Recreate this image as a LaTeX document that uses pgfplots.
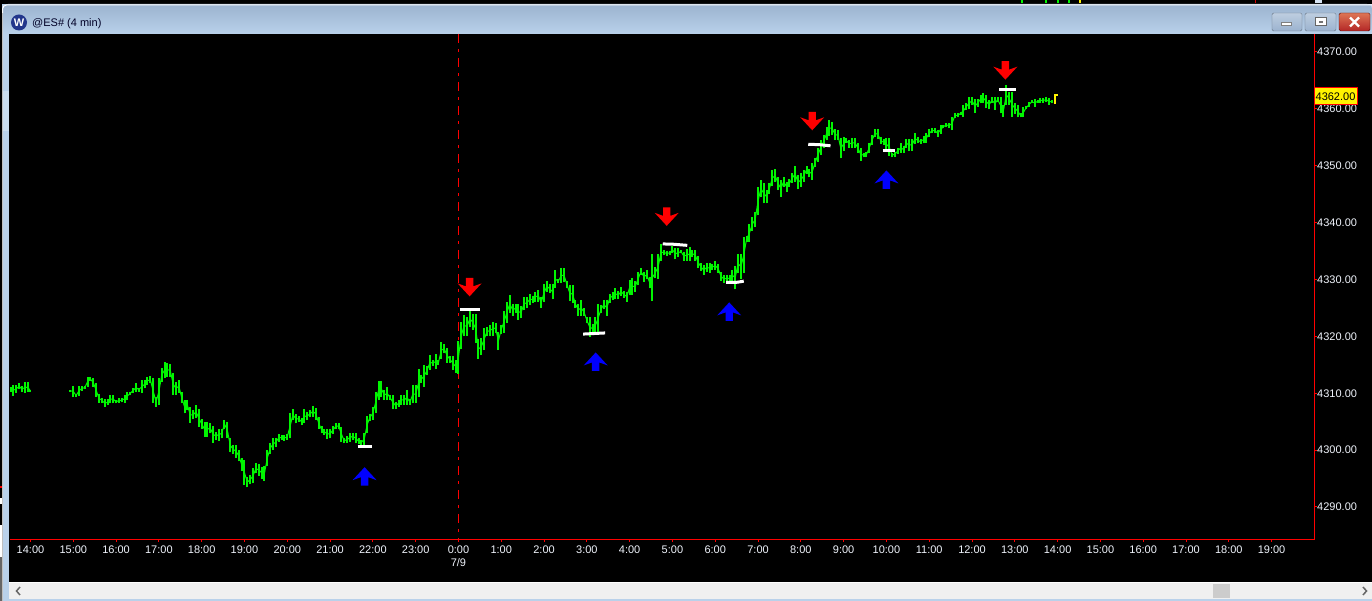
\documentclass[border=0pt]{standalone}
\usepackage{fontspec}
\setmainfont{Liberation Sans}
\usepackage{pgfplots}
\usepackage{pgfplotstable}
\pgfplotsset{compat=1.18}

\definecolor{bargreen}{RGB}{0,245,0}
\definecolor{frameblue}{RGB}{185,209,234}
\definecolor{titletop}{RGB}{155,179,207}
\definecolor{labelwhite}{RGB}{240,244,252}
\definecolor{logoblue}{RGB}{35,55,140}

% arrows drawn as plot marks, 1 unit = 1pt = 1 pixel
\pgfdeclareplotmark{uparrow}{%
  \pgfpathmoveto{\pgfqpoint{0pt}{9.5pt}}
  \pgfpathlineto{\pgfqpoint{12pt}{-3.5pt}}
  \pgfpathlineto{\pgfqpoint{3.7pt}{-0.5pt}}
  \pgfpathlineto{\pgfqpoint{3.7pt}{-9pt}}
  \pgfpathlineto{\pgfqpoint{-3.7pt}{-9pt}}
  \pgfpathlineto{\pgfqpoint{-3.7pt}{-0.5pt}}
  \pgfpathlineto{\pgfqpoint{-12pt}{-3.5pt}}
  \pgfpathclose
  \pgfusepathqfill}
\pgfdeclareplotmark{downarrow}{%
  \pgfpathmoveto{\pgfqpoint{0pt}{-9.5pt}}
  \pgfpathlineto{\pgfqpoint{12pt}{3.5pt}}
  \pgfpathlineto{\pgfqpoint{3.7pt}{0.5pt}}
  \pgfpathlineto{\pgfqpoint{3.7pt}{9pt}}
  \pgfpathlineto{\pgfqpoint{-3.7pt}{9pt}}
  \pgfpathlineto{\pgfqpoint{-3.7pt}{0.5pt}}
  \pgfpathlineto{\pgfqpoint{-12pt}{3.5pt}}
  \pgfpathclose
  \pgfusepathqfill}

% 4 minute bars, i = bars after 14:00
\pgfplotstableread{
i lo hi
-7 4310.30 4311.15
-6 4309.60 4311.45
-5 4310.10 4311.45
-4 4310.70 4311.75
-3 4310.25 4311.25
-2 4310.10 4311.90
-1 4310.25 4311.90
0 4310.25 4310.60
7 nan nan
14 4310.25 4310.60
15 4309.40 4311.25
16 4309.40 4309.80
17 4309.60 4311.25
18 4310.45 4311.25
19 4310.70 4311.25
20 4311.15 4312.80
21 4312.20 4312.80
22 4311.15 4312.60
23 4309.40 4311.75
24 4308.35 4309.80
25 4308.35 4309.20
26 4307.60 4308.90
27 4307.90 4308.90
28 4308.20 4309.70
29 4308.20 4309.70
30 4308.20 4308.80
31 4308.35 4309.10
32 4308.40 4309.10
33 4308.35 4309.70
34 4308.80 4310.25
35 4309.70 4310.25
36 4310.00 4311.00
37 4310.25 4311.75
38 4310.25 4311.00
39 4310.00 4312.30
40 4310.85 4312.30
41 4311.45 4312.90
42 4311.75 4313.00
43 4308.20 4312.60
44 4307.60 4309.40
45 4307.90 4312.60
46 4312.00 4314.40
47 4312.60 4315.55
48 4312.90 4315.40
49 4312.90 4315.10
50 4309.70 4313.50
51 4309.70 4312.00
52 4310.10 4312.40
53 4308.20 4310.25
54 4306.45 4308.80
55 4307.00 4308.80
56 4304.80 4307.60
57 4305.40 4307.00
58 4305.60 4307.90
59 4304.10 4307.20
60 4303.80 4305.40
61 4302.35 4305.00
62 4302.35 4305.00
63 4302.95 4304.80
64 4301.30 4304.20
65 4301.80 4303.25
66 4301.65 4303.80
67 4302.05 4303.80
68 4303.80 4305.30
69 4302.05 4305.00
70 4299.70 4302.05
71 4299.40 4300.90
72 4298.70 4300.90
73 4298.00 4300.00
74 4296.40 4298.55
75 4293.85 4298.25
76 4293.45 4295.30
77 4294.00 4295.60
78 4294.15 4296.80
79 4295.90 4297.65
80 4295.45 4297.55
81 4295.00 4297.10
82 4294.60 4297.20
83 4297.20 4300.00
84 4299.40 4301.20
85 4300.10 4302.05
86 4300.60 4302.20
87 4301.50 4302.80
88 4301.80 4302.65
89 4301.65 4302.65
90 4301.80 4302.80
91 4302.05 4306.45
92 4305.30 4307.15
93 4304.70 4306.35
94 4305.00 4306.00
95 4304.40 4305.60
96 4304.70 4307.15
97 4305.30 4306.75
98 4305.75 4307.00
99 4305.90 4307.75
100 4305.30 4307.45
101 4303.80 4305.75
102 4302.95 4304.25
103 4302.65 4303.80
104 4301.90 4303.80
105 4302.05 4303.65
106 4302.80 4304.25
107 4303.65 4304.70
108 4303.65 4304.80
109 4301.50 4304.10
110 4301.20 4302.05
111 4301.30 4302.45
112 4301.50 4302.95
113 4301.80 4303.05
114 4301.20 4302.95
115 4301.05 4302.05
116 4300.90 4301.80
117 4300.90 4303.05
118 4302.95 4306.00
119 4305.20 4306.35
120 4305.30 4307.65
121 4306.60 4310.30
122 4308.80 4312.20
123 4309.30 4312.20
124 4308.80 4310.55
125 4308.80 4311.15
126 4308.80 4309.70
127 4307.15 4309.70
128 4307.15 4308.50
129 4307.65 4308.80
130 4307.95 4309.70
131 4307.95 4309.70
132 4307.95 4310.55
133 4307.95 4308.90
134 4308.25 4311.45
135 4308.25 4311.45
136 4309.30 4314.20
137 4311.75 4313.20
138 4311.15 4315.00
139 4313.20 4314.80
140 4314.10 4316.70
141 4314.80 4315.85
142 4314.20 4316.90
143 4315.00 4315.85
144 4316.10 4319.05
145 4317.00 4318.65
146 4315.40 4317.90
147 4315.40 4316.55
148 4314.10 4316.55
149 4313.60 4315.85
150 4313.40 4319.25
151 4317.70 4322.60
152 4320.05 4323.75
153 4320.05 4323.45
154 4321.70 4324.50
155 4321.10 4323.90
156 4318.90 4323.90
157 4316.10 4319.45
158 4316.70 4319.65
159 4317.60 4321.40
160 4320.05 4321.60
161 4320.05 4322.00
162 4320.05 4322.60
163 4320.65 4322.30
164 4317.60 4320.80
165 4320.50 4322.00
166 4320.65 4324.50
167 4322.40 4326.10
168 4324.15 4327.25
169 4323.60 4325.70
170 4324.15 4325.70
171 4322.90 4325.70
172 4323.15 4325.35
173 4324.65 4326.85
174 4324.95 4326.85
175 4325.50 4327.45
176 4325.90 4327.10
177 4326.10 4327.85
178 4326.10 4328.15
179 4324.95 4327.00
180 4326.10 4329.20
181 4327.85 4329.75
182 4327.55 4329.20
183 4326.50 4329.20
184 4328.45 4331.65
185 4329.40 4330.00
186 4329.40 4331.95
187 4329.60 4331.95
188 4328.45 4329.80
189 4326.30 4329.00
190 4325.80 4329.00
191 4324.95 4326.40
192 4323.60 4325.70
193 4323.60 4326.40
194 4323.60 4324.95
195 4322.30 4323.35
196 4319.95 4323.35
197 4320.50 4322.20
198 4320.50 4323.35
199 4320.80 4325.70
200 4324.15 4325.50
201 4324.75 4326.40
202 4323.60 4326.40
203 4325.90 4327.45
204 4326.40 4327.85
205 4326.50 4328.45
206 4326.50 4328.05
207 4327.10 4328.60
208 4326.70 4328.05
209 4326.10 4327.85
210 4327.30 4329.90
211 4327.30 4330.20
212 4327.85 4329.80
213 4329.00 4331.35
214 4330.80 4331.95
215 4329.60 4331.35
216 4330.00 4331.65
217 4328.45 4330.50
218 4326.20 4334.50
219 4330.20 4332.15
220 4330.00 4334.50
221 4333.30 4336.25
222 4334.30 4335.20
223 4334.10 4335.05
224 4334.30 4335.05
225 4334.60 4335.90
226 4333.55 4335.50
227 4333.90 4335.50
228 4334.60 4335.20
229 4333.30 4334.90
230 4333.30 4335.30
231 4333.30 4335.65
232 4333.90 4335.20
233 4333.30 4335.20
234 4331.95 4334.10
235 4331.55 4332.85
236 4330.80 4332.55
237 4331.35 4332.85
238 4331.20 4332.85
239 4331.65 4332.70
240 4331.65 4333.20
241 4331.20 4332.70
242 4329.80 4331.35
243 4329.40 4330.80
244 4329.60 4330.80
245 4329.60 4330.80
246 4329.80 4331.65
247 4328.25 4332.35
248 4331.10 4334.50
249 4330.00 4334.50
250 4331.10 4337.50
251 4336.65 4337.65
252 4336.65 4339.75
253 4338.60 4340.90
254 4339.15 4341.90
255 4341.35 4346.20
256 4344.45 4347.50
257 4343.40 4346.90
258 4343.40 4345.70
259 4345.00 4347.00
260 4346.40 4349.25
261 4347.20 4349.35
262 4345.70 4348.10
263 4344.55 4347.50
264 4346.30 4348.10
265 4345.45 4347.20
266 4346.20 4347.60
267 4347.00 4348.65
268 4347.20 4349.95
269 4345.85 4348.35
270 4346.30 4348.65
271 4347.20 4349.25
272 4348.55 4349.95
273 4347.95 4349.35
274 4347.50 4350.40
275 4349.80 4351.30
276 4350.70 4353.05
277 4351.90 4354.50
278 4353.05 4355.40
279 4354.50 4356.75
280 4355.25 4358.00
281 4355.40 4357.75
282 4354.50 4356.40
283 4354.50 4356.25
284 4351.30 4354.80
285 4352.65 4355.00
286 4353.95 4354.80
287 4353.20 4354.50
288 4353.20 4354.80
289 4353.20 4354.80
290 4352.30 4353.95
291 4350.90 4353.05
292 4351.45 4352.30
293 4351.45 4352.45
294 4352.30 4354.05
295 4353.65 4355.40
296 4355.00 4356.40
297 4354.65 4356.40
298 4353.80 4355.00
299 4353.65 4354.65
300 4352.75 4354.80
301 4351.70 4354.80
302 4351.45 4352.30
303 4351.60 4352.45
304 4352.05 4353.20
305 4352.30 4353.95
306 4352.30 4353.45
307 4353.20 4354.65
308 4352.65 4354.65
309 4352.65 4354.65
310 4353.80 4355.70
311 4353.95 4355.00
312 4353.80 4354.65
313 4353.95 4355.25
314 4354.05 4355.70
315 4355.00 4356.40
316 4355.70 4356.60
317 4355.80 4356.60
318 4355.10 4356.25
319 4355.60 4357.15
320 4356.60 4357.15
321 4356.75 4357.55
322 4356.60 4357.55
323 4356.25 4358.60
324 4358.35 4359.30
325 4358.50 4359.20
326 4358.90 4359.50
327 4358.60 4360.70
328 4359.80 4360.95
329 4359.90 4362.15
330 4360.70 4362.15
331 4359.30 4361.65
332 4360.40 4361.65
333 4360.95 4362.45
334 4361.10 4362.70
335 4360.10 4362.45
336 4359.90 4361.55
337 4360.95 4362.15
338 4359.80 4362.00
339 4361.25 4362.00
340 4359.20 4362.00
341 4358.60 4360.70
342 4360.70 4364.20
343 4360.70 4363.00
344 4358.60 4363.00
345 4359.10 4361.10
346 4358.50 4360.70
347 4358.50 4359.20
348 4358.50 4360.25
349 4359.90 4360.50
350 4360.25 4361.25
351 4360.95 4361.55
352 4360.40 4361.65
353 4361.10 4361.55
354 4361.10 4361.85
355 4361.10 4361.85
356 4361.25 4362.00
357 4360.70 4361.85
358 4360.95 4361.55
}\bars

\begin{document}
\begin{tikzpicture}[x=1pt,y=1pt]
\useasboundingbox (0,0) rectangle (1372,601);

% window chrome
\fill[frameblue] (0,0) rectangle (1372,601);
\fill[black] (0,597) rectangle (1372,601);
\fill[red!85!black] (1254.8,598) rectangle (1255.6,601);
\fill[frameblue!60!white] (1315,598) rectangle (1322,601);
\foreach \gx in {1021,1045,1057,1068} \fill[bargreen] (\gx,598) rectangle (\gx+2,601);
\fill[yellow] (1079,598) rectangle (1081,601);
\fill[black] (0,76) rectangle (2,601);
\fill[white] (0,44) rectangle (2,76);
\fill[black!60] (0,0) rectangle (2,44);
\fill[red] (0,113) rectangle (1.5,115);
\fill[white] (0,97) rectangle (1.5,103);
\fill[black!25] (2,0) rectangle (3,590);
\shade[top color=titletop, bottom color=frameblue, rounded corners=5pt] (3,567) rectangle (1372,597);
\draw[white, line width=1pt] (2.5,588) -- (2.5,592) arc (180:90:4) -- (1372,596);
\fill[frameblue!75!white] (3,470) rectangle (9,510);

% logo and title
\fill[logoblue] (19,578.5) circle (8);
\node[white, font=\fontsize{11}{13}\selectfont\bfseries] at (19,578) {W};
\node[anchor=west, inner sep=0pt, text=black!85!blue, font=\fontsize{11}{13}\selectfont] at (32,577.5) {@ES\# (4 min)};

% window buttons
\shade[top color=titletop!65!white, bottom color=titletop, draw=black!45!frameblue, rounded corners=1.5pt] (1272,570) rectangle (1302,588);
\fill[white, draw=black!50] (1281,575.5) rectangle (1291,579);
\shade[top color=titletop!65!white, bottom color=titletop, draw=black!45!frameblue, rounded corners=1.5pt] (1305,570) rectangle (1336,588);
\draw[black!60, fill=white, line width=1pt] (1315.5,575) rectangle (1326,583);
\fill[black!55] (1319,578) rectangle (1322.5,580);
\shade[top color=red!35!brown!80!white, bottom color=red!65!black!85!white, draw=red!30!black, rounded corners=1.5pt] (1339,570) rectangle (1370,588);
\draw[white, line width=2.2pt] (1350,574.5) -- (1359,583.5) (1350,583.5) -- (1359,574.5);

% chart area and scrollbar
\fill[black] (9,18) rectangle (1372,567);
\fill[white] (9,17.5) rectangle (1372,18.5);
\fill[black!6] (9,1.5) rectangle (1372,18);
\fill[black!20] (1213,3) rectangle (1230,17);
\draw[black!60, line width=1.5pt] (20,14) -- (16.5,10) -- (20,6);
\draw[black!60, line width=1.5pt] (1363,6) -- (1366.5,10) -- (1363,14);

\begin{axis}[
    at={(10pt,61.5pt)}, anchor=south west,
    scale only axis,
    width=1304.5pt, height=505.5pt,
    xmin=-7.18, xmax=450.05,
    ymin=4284.286, ymax=4373.16,
    axis x line*=bottom,
    axis y line*=right,
    axis line style={red, line width=1pt},
    tick style={red, line width=1pt},
    tick align=outside,
    major tick length=2.5pt,
    xtick={0,15,...,435},
    xticklabels={14:00,15:00,16:00,17:00,18:00,19:00,20:00,21:00,22:00,23:00,
      {0:00\\7/9},1:00,2:00,3:00,4:00,5:00,6:00,7:00,8:00,9:00,10:00,11:00,12:00,13:00,
      14:00,15:00,16:00,17:00,18:00,19:00},
    ytick={4290,4300,...,4370},
    yticklabel style={/pgf/number format/fixed, /pgf/number format/fixed zerofill,
      /pgf/number format/precision=2, /pgf/number format/1000 sep={},
      inner sep=0pt, xshift=0pt},
    /pgf/number format/assume math mode=true,
    ticklabel style={text=labelwhite, font=\fontsize{11}{13}\selectfont},
    xticklabel style={align=center, inner sep=0pt, yshift=-4pt, anchor=north},
    unbounded coords=jump,
]

% dash-dot line at midnight
\addplot[red, line width=1.2pt, dash pattern=on 9.5pt off 6pt on 2.5pt off 6pt] coordinates {(150,4373.16)(150,4284.286)};

% high-low bars
\addplot[draw=none, mark=none, error bars/.cd, y dir=plus, y explicit, error mark=none,
    error bar style={line width=2pt, color=bargreen, line cap=butt}]
    table[x=i, y=lo, y error plus expr=\thisrow{hi}-\thisrow{lo}] {\bars};
\addplot[bargreen, line width=1pt, mark=none] table[x=i, y expr=0.5*(\thisrow{lo}+\thisrow{hi})] {\bars};

% last bar still open
\addplot[yellow, line width=2pt, mark=none] coordinates {(358.6,4361.1)(359,4361.1)(359,4362.4)(360,4362.4)};

% white level marks
\addplot[white, line width=3pt] coordinates {(114.7,4300.67)(119.6,4300.67)};
\addplot[white, line width=3pt] coordinates {(150.5,4324.76)(157.5,4324.76)};
\addplot[white, line width=3pt] coordinates {(193.7,4320.4)(201.4,4320.6)};
\addplot[white, line width=3pt] coordinates {(221.6,4336.25)(225.2,4336.2)(230.2,4336)};
\addplot[white, line width=3pt] coordinates {(243.8,4329.5)(247.5,4329.5)(250,4329.7)};
\addplot[white, line width=3pt] coordinates {(272.6,4353.77)(276.5,4353.7)(280.4,4353.5)};
\addplot[white, line width=3pt] coordinates {(298.7,4352.7)(303.1,4352.7)};
\addplot[white, line width=3pt] coordinates {(339.6,4363.44)(345.4,4363.44)};

% signal arrows
\addplot[only marks, blue, mark=uparrow] coordinates {(117.1,4295.33)(198.1,4315.5)(244.9,4324.3)(300,4347.5)};
\addplot[only marks, red, mark=downarrow] coordinates {(153.9,4328.7)(223,4341.1)(274,4357.9)(341.7,4366.8)};
\end{axis}

% last price tag
\node[draw=red, line width=1pt, fill=yellow, text=black, inner sep=0pt, minimum width=43pt, minimum height=17pt,
      font=\fontsize{11}{13}\selectfont] at (1335.5,504.5) {4362.00};
\end{tikzpicture}
\end{document}
